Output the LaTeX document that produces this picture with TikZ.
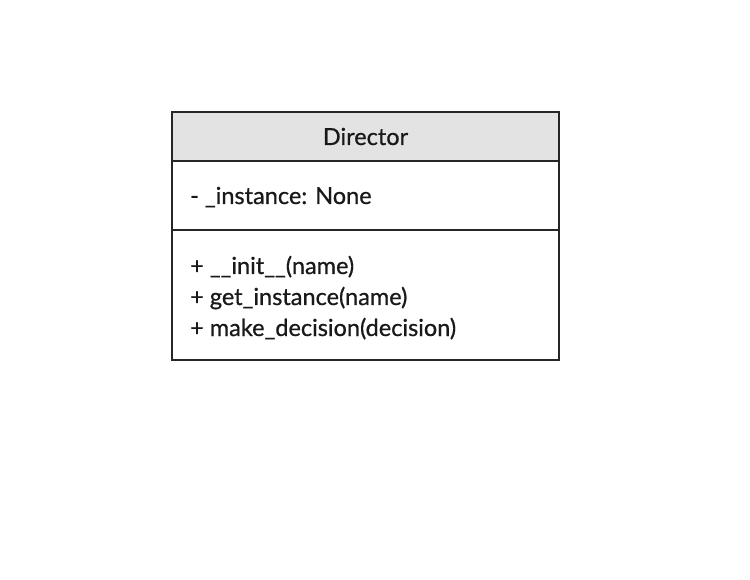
\documentclass[tikz,border=0pt]{standalone}
\usepackage{fontspec}
\setmainfont{Lato}[BoldFont=Lato, BoldFeatures={FakeBold=0.7}]
\begin{document}
\begin{tikzpicture}[x=1pt,y=-1pt,
  part/.style={draw=black!85,line width=1.2pt,minimum width=387pt,inner sep=0pt,outer sep=0pt},
  txt/.style={font=\fontsize{23.5}{31}\selectfont\bfseries,text=black!90,inner sep=0pt}]
\useasboundingbox (0,0) rectangle (750,580);
\node[part,fill=black!11,minimum height=49pt,anchor=north west] (head) at (172,112) {};
\node[txt,anchor=base] (title) at (365.5,145) {Director};
\node[part,minimum height=69pt,anchor=north west] (attr) at (172,161) {};
\node[part,minimum height=130pt,anchor=north west] (meth) at (172,230) {};
\node[txt,anchor=base west] (a1) at (190,204) {- \_instance: None};
\node[txt,anchor=base west] (m1) at (190,274) {+ \_\_init\_\_(name)};
\node[txt,anchor=base west] (m2) at (190,305) {+ get\_instance(name)};
\node[txt,anchor=base west] (m3) at (190,336) {+ make\_decision(decision)};
\end{tikzpicture}
\end{document}
